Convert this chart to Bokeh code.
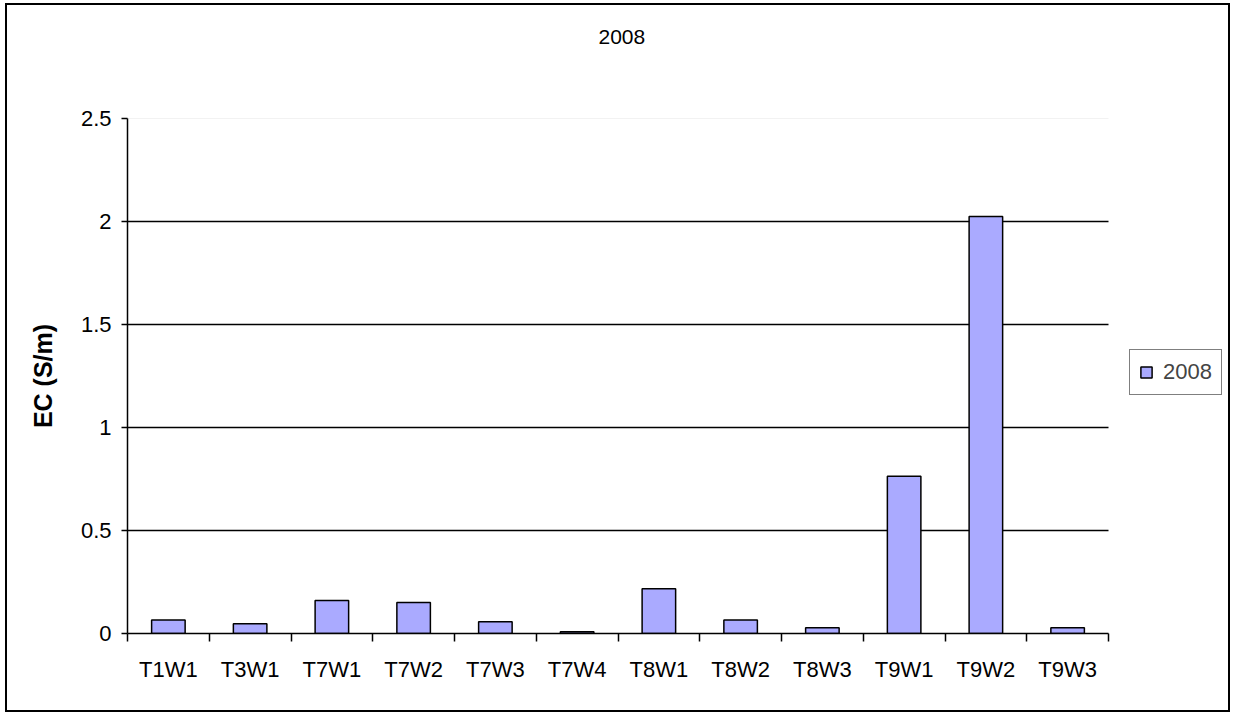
from bokeh.plotting import figure
from bokeh.models import (Range1d, FixedTicker, Legend, LegendItem, Title,
                          ColumnDataSource, LinearAxis)
from bokeh.embed import file_html
from bokeh.resources import INLINE

categories = ["T1W1", "T3W1", "T7W1", "T7W2", "T7W3", "T7W4",
              "T8W1", "T8W2", "T8W3", "T9W1", "T9W2", "T9W3"]
ec_2008 = [0.065, 0.047, 0.16, 0.15, 0.057, 0.008,
           0.217, 0.065, 0.028, 0.763, 2.024, 0.028]
y_ticks = [0, 0.5, 1, 1.5, 2, 2.5]
series_name = "2008"
title_text = "2008"
y_label = "EC (S/m)"

FONT = "Liberation Sans"
n = len(categories)
xs = [i + 0.5 for i in range(n)]
src = ColumnDataSource(dict(x=xs, top=ec_2008, cat=categories))

# layout (pixels)
W, H = 1225, 709
MBL, MBR, MBT, MBB = 120, 6, 113, 81
PLOT_W = 981            # width of the bar area inside the frame
frame_w = W - MBL - MBR
x_end = n * frame_w / PLOT_W

p = figure(width=W, height=H, output_backend="svg", toolbar_location=None,
           x_range=Range1d(0, x_end), y_range=Range1d(0, y_ticks[-1]),
           min_border_left=MBL, min_border_right=MBR, min_border_top=MBT,
           min_border_bottom=MBB, x_axis_location=None,
           title=title_text,
           styles={"border": "2px solid black", "box-sizing": "border-box",
                   "margin": "3px 0 0 5px"})
p.outline_line_color = None
p.background_fill_color = "white"
p.border_fill_color = "white"
p.xgrid.visible = False
p.ygrid.visible = False

# spacer between the frame and the title (stacked nearest the frame)
p.add_layout(Title(text=" ", text_font=FONT, text_font_size="21px",
                   standoff=50), "above")

p.title.align = "left"
p.title.offset = 471
p.title.vertical_align = "bottom"
p.title.text_font = FONT
p.title.text_font_size = "21px"
p.title.text_font_style = "normal"
p.title.text_color = "black"
p.title.standoff = 0

# gridlines limited to the bar area
gy = y_ticks[1:-1]
p.segment(x0=[0] * len(gy), x1=[n] * len(gy), y0=gy, y1=gy,
          line_color="black", line_width=1.3)
p.segment(x0=[0], x1=[n], y0=[y_ticks[-1]], y1=[y_ticks[-1]],
          line_color="#e6e6e6", line_width=1)

# y axis
yax = p.yaxis[0]
yax.ticker = FixedTicker(ticks=y_ticks, minor_ticks=[])
yax.axis_line_color = "black"
yax.axis_line_width = 1.5
yax.major_tick_line_color = "black"
yax.major_tick_line_width = 1.5
yax.major_tick_in = 0
yax.major_tick_out = 6
yax.minor_tick_line_color = None
yax.major_label_text_font = FONT
yax.major_label_text_font_size = "22px"
yax.major_label_text_color = "black"
yax.major_label_standoff = 10
yax.axis_label = y_label
yax.axis_label_text_font = FONT
yax.axis_label_text_font_size = "25px"
yax.axis_label_text_font_style = "bold"
yax.axis_label_text_color = "black"
yax.axis_label_standoff = 21

# x axis
xax = LinearAxis(ticker=FixedTicker(ticks=xs, minor_ticks=list(range(n + 1))),
                 bounds=(0, n))
xax.major_label_overrides = {x: c for x, c in zip(xs, categories)}
xax.axis_line_color = "black"
xax.axis_line_width = 1.5
xax.major_tick_line_color = None
xax.major_tick_out = 0
xax.major_tick_in = 0
xax.minor_tick_line_color = "black"
xax.minor_tick_line_width = 1.5
xax.minor_tick_out = 8
xax.minor_tick_in = 0
xax.major_label_text_font = FONT
xax.major_label_text_font_size = "22px"
xax.major_label_text_color = "black"
xax.major_label_standoff = 15
p.add_layout(xax, "below")

r = p.vbar(x="x", top="top", width=0.41, bottom=0, source=src,
           fill_color="#aaaaff", line_color="black", line_width=1.5)

legend = Legend(items=[LegendItem(label=series_name, renderers=[r])],
                location=(1002, 238), border_line_color="black",
                border_line_width=1.5, padding=9, margin=0,
                glyph_width=14, glyph_height=14, label_standoff=10,
                label_text_font=FONT, label_text_font_size="22px",
                background_fill_alpha=1)
p.add_layout(legend, "center")

open("out.html", "w").write(file_html(p, INLINE))
